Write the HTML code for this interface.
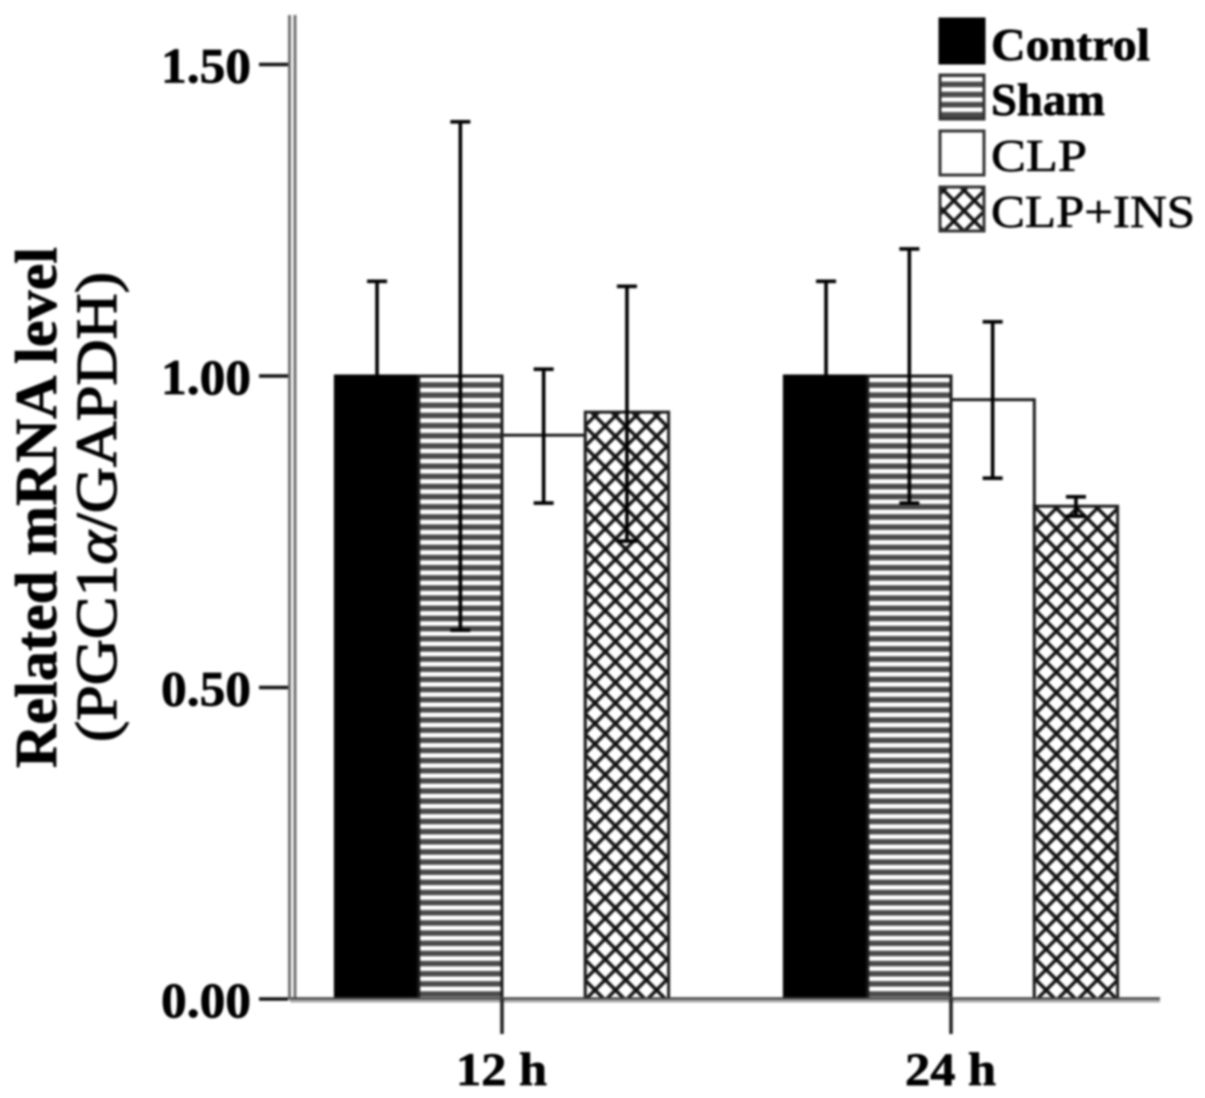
<!DOCTYPE html>
<html lang="en">
<head>
<meta charset="utf-8">
<title>PGC1α mRNA level chart</title>
<style>
html,body{margin:0;padding:0;background:#fff;}
#chart{display:block;width:1205px;height:1098px;filter:blur(1px);font-family:"Liberation Serif",serif;fill:#000;}
#chart text{stroke:#000;stroke-width:0.7px;}
#chart text.heavy{stroke-width:1.2px;}
</style>
</head>
<body>
<svg id="chart" xmlns="http://www.w3.org/2000/svg" width="1205" height="1098" viewBox="0 0 1205 1098">
<defs>
<pattern id="stripes" patternUnits="userSpaceOnUse" width="10" height="10.15" patternTransform="translate(0 854.7)">
<rect width="10" height="10.15" fill="#4a4a4a"/>
<rect y="0" width="10" height="4.6" fill="#fff"/>
</pattern>
<pattern id="stripes-legend" patternUnits="userSpaceOnUse" width="10" height="10.15" patternTransform="translate(0 77)">
<rect width="10" height="10.15" fill="#4a4a4a"/>
<rect y="0" width="10" height="4.6" fill="#fff"/>
</pattern>
<pattern id="cross" patternUnits="userSpaceOnUse" width="14.5" height="14.5" patternTransform="translate(595 867) rotate(45)">
<rect width="14.5" height="14.5" fill="#fff"/>
<path d="M0 0H14.5M0 14.5H14.5M0 0V14.5M14.5 0V14.5" stroke="#111" stroke-width="3.4" fill="none"/>
</pattern>
</defs>
<g id="plot"></g>
<g id="axes"></g>
<g id="legend"></g>
<text transform="translate(56,768) rotate(-90)" font-size="59" font-weight="bold" textLength="521" lengthAdjust="spacingAndGlyphs">Related mRNA level</text>
<text class="heavy" transform="translate(116,742) rotate(-90)" font-size="58" textLength="470" lengthAdjust="spacingAndGlyphs">(PGC1<tspan font-style="italic">α</tspan>/GAPDH)</text>
</svg>
<script>
const categories = ['12 h', '24 h'];
const seriesNames = ['Control', 'Sham', 'CLP', 'CLP+INS'];
const controlValues = [1.00, 1.00];
const shamValues = [1.00, 1.00];
const clpValues = [0.905, 0.962];
const insValues = [0.942, 0.791];
const controlUpper = [1.152, 1.152];
const controlLower = [0.85, 0.85];
const shamUpper = [1.408, 1.204];
const shamLower = [0.592, 0.796];
const clpUpper = [1.011, 1.087];
const clpLower = [0.796, 0.836];
const insUpper = [1.144, 0.806];
const insLower = [0.735, 0.775];
const yTickValues = [0, 0.5, 1, 1.5];
const yTickLabels = ['0.00', '0.50', '1.00', '1.50'];

const seriesValues = [controlValues, shamValues, clpValues, insValues];
const seriesUpper = [controlUpper, shamUpper, clpUpper, insUpper];
const seriesLower = [controlLower, shamLower, clpLower, insLower];
const seriesFills = ['#000', 'url(#stripes)', '#fff', 'url(#cross)'];
const legendFills = ['#000', 'url(#stripes-legend)', '#fff', 'url(#cross)'];
const legendWeights = ['bold', 'bold', 'normal', 'normal'];
const legendLengths = [159, 114, 96, 204];

const NS = 'http://www.w3.org/2000/svg';
const yScale = v => 999 - v * 623;
const xCenter = i => 502 + i * 449;
const barWidth = 83.3;
const barX = (c, s) => xCenter(c) + (s - 2) * barWidth;

function make(tag, parent, attrs) {
  const el = document.createElementNS(NS, tag);
  for (const k in attrs) el.setAttribute(k, attrs[k]);
  parent.appendChild(el);
  return el;
}

const plot = document.getElementById('plot');
const axes = document.getElementById('axes');
const legend = document.getElementById('legend');

categories.forEach((cat, c) => {
  seriesNames.forEach((name, s) => {
    const v = seriesValues[s][c];
    const bar = make('rect', plot, {
      x: barX(c, s), y: yScale(v), width: barWidth, height: yScale(0) - yScale(v),
      fill: seriesFills[s], stroke: s === 0 ? '#000' : '#1c1c1c', 'stroke-width': 3
    });
    
    
  });
});

categories.forEach((cat, c) => {
  seriesNames.forEach((name, s) => {
    const cx = barX(c, s) + barWidth / 2;
    const top = yScale(seriesUpper[s][c]);
    const bottom = yScale(seriesLower[s][c]);
    const err = make('path', plot, {
      d: 'M' + (cx - 10) + ' ' + top + 'H' + (cx + 10) + 'M' + cx + ' ' + top + 'V' + bottom + 'M' + (cx - 10) + ' ' + bottom + 'H' + (cx + 10),
      fill: 'none', stroke: '#000', 'stroke-width': 3.6
    });
    
    
  });
});

const axisY1 = make('path', axes, { d: 'M289.5 15V1000M295 15V999', stroke: '#707070', 'stroke-width': 3, fill: 'none' });



const axisXDark = make('line', axes, { x1: 290, x2: 1160, y1: yScale(0) - 0.5, y2: yScale(0) - 0.5, stroke: '#444', 'stroke-width': 2.4 });


const axisXLight = make('line', axes, { x1: 290, x2: 1160, y1: yScale(0) + 2, y2: yScale(0) + 2, stroke: '#a8a8a8', 'stroke-width': 3 });



yTickValues.forEach((v, i) => {
  const tick = make('line', axes, { x1: 259, x2: 288, y1: yScale(v), y2: yScale(v), stroke: '#111', 'stroke-width': 3.6 });
  
  
  const label = make('text', axes, { x: 161, y: yScale(v) + 18, 'font-size': 50, 'font-weight': 'bold', textLength: 90, lengthAdjust: 'spacingAndGlyphs' });
  
  
  label.textContent = yTickLabels[i];
});

categories.forEach((cat, c) => {
  const tick = make('line', axes, { x1: xCenter(c), x2: xCenter(c), y1: yScale(0), y2: 1034, stroke: '#222', 'stroke-width': 3.6 });
  
  
  const label = make('text', axes, { x: xCenter(c) - 46, y: 1085, 'font-size': 47, 'font-weight': 'bold', textLength: 91, lengthAdjust: 'spacingAndGlyphs' });
  
  
  label.textContent = cat;
});

seriesNames.forEach((name, s) => {
  const top = 19 + s * 56;
  const swatch = make('rect', legend, { x: 940, y: top, width: 44, height: 44, fill: legendFills[s], stroke: s === 0 ? '#000' : '#333', 'stroke-width': 3 });
  
  
  const label = make('text', legend, { x: 991, y: top + 41 - (s === 3 ? 1 : 0) + (s === 1 ? -1 : 0) + (s === 2 ? -1 : 0), 'font-size': 46, 'font-weight': legendWeights[s], textLength: legendLengths[s], lengthAdjust: 'spacingAndGlyphs' });
  
  
  label.textContent = name;
});
</script>
</body>
</html>
